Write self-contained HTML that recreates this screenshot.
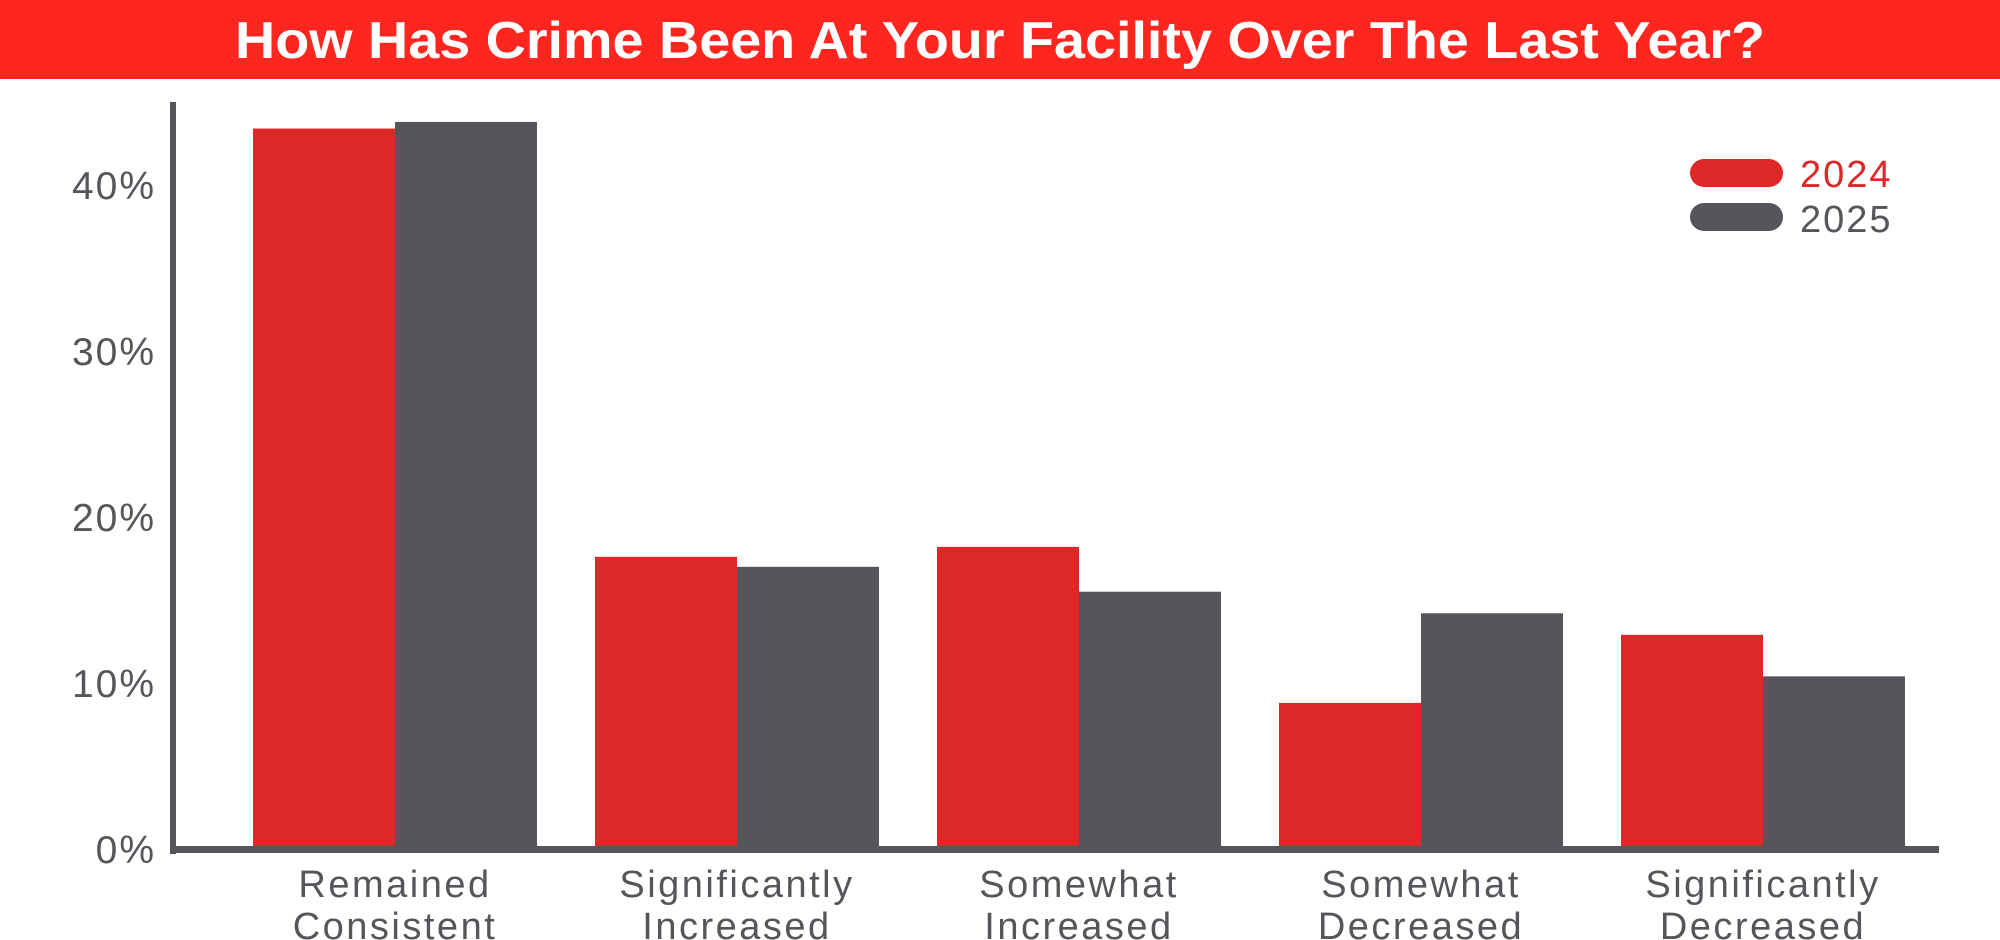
<!DOCTYPE html>
<html><head><meta charset="utf-8"><style>
html,body{margin:0;padding:0;background:#fff;}
svg{display:block;font-family:"Liberation Sans",sans-serif;}
</style></head><body>
<svg id="chart" width="2000" height="940" viewBox="0 0 2000 940" xmlns="http://www.w3.org/2000/svg">
<rect x="0" y="0" width="2000" height="79" fill="#ff2620"/>
<text x="1000" y="58" text-anchor="middle" font-size="52" font-weight="bold" fill="#fff" textLength="1530" lengthAdjust="spacingAndGlyphs">How Has Crime Been At Your Facility Over The Last Year?</text>
<g id="bars"></g>
<g id="yticks"></g>
<g id="xlabels"></g>
<rect x="170" y="102" width="6" height="752" fill="#55565b"/>
<rect x="170" y="846" width="1769" height="7" fill="#55565b"/>
<g>
<rect x="1690" y="159" width="93" height="28" rx="14" fill="#de2727"/>
<text x="1800" y="187" font-size="38" letter-spacing="2" fill="#de2727">2024</text>
<rect x="1690" y="203" width="93" height="28" rx="14" fill="#55565b"/>
<text x="1800" y="232" font-size="38" letter-spacing="2" fill="#55565b">2025</text>
</g>
</svg>
<script>
const categories = [["Remained","Consistent"],["Significantly","Increased"],["Somewhat","Increased"],["Somewhat","Decreased"],["Significantly","Decreased"]];
const values2024 = [43.4, 17.6, 18.2, 8.8, 12.9];
const values2025 = [43.8, 17.0, 15.5, 14.2, 10.4];
const yTicks = [0, 10, 20, 30, 40];
const yTickLabels = ["0%","10%","20%","30%","40%"];

const NS = "http://www.w3.org/2000/svg";
const y0 = 849, pxPer = 16.6;
function yScale(v){ return y0 - v*pxPer; }
function groupX(i){ return 253 + 342*i; }
const bw = 142;
const bars = document.getElementById('bars');
function mk(tag, attrs){ const e=document.createElementNS(NS,tag); for(const k in attrs) e.setAttribute(k,attrs[k]); return e; }
[values2024, values2025].forEach((series, s) => {
  series.forEach((v, i) => {
    const r = mk('rect', {x: groupX(i)+s*bw, y: yScale(v), width: bw, height: y0 - yScale(v), fill: s===0?'#de2727':'#55565b'});
    
    
    bars.appendChild(r);
  });
});
const yt = document.getElementById('yticks');
yTicks.forEach((t, i) => {
  const tx = mk('text', {x: 156, y: yScale(t)+14, 'text-anchor': 'end', 'font-size': 39, 'letter-spacing': 2, fill: '#55565b'});
  tx.textContent = yTickLabels[i];
  
  
  yt.appendChild(tx);
});
const xl = document.getElementById('xlabels');
categories.forEach((c, i) => {
  const cx = groupX(i) + bw;
  c.forEach((line, j) => {
    const tx = mk('text', {x: cx, y: 897 + j*42, 'text-anchor': 'middle', 'font-size': 38, 'letter-spacing': 2.5, fill: '#55565b'});
    tx.textContent = line;
    
    
    xl.appendChild(tx);
  });
});
</script>
</body></html>
